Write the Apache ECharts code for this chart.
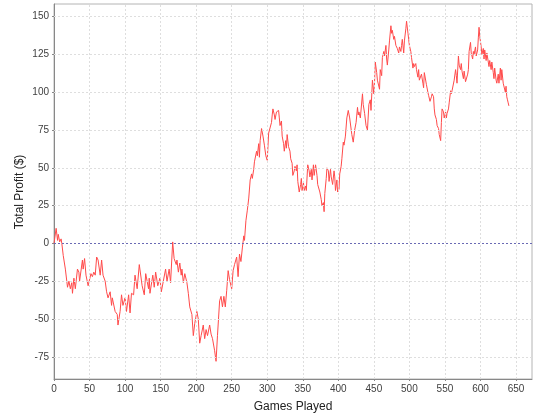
<!DOCTYPE html>
<html>
<head>
<meta charset="utf-8">
<script src="https://cdn.jsdelivr.net/npm/echarts@6/dist/echarts.min.js"></script>
<style>
html,body{margin:0;padding:0;background:#fff;}
#chart{width:540px;height:420px;}
</style>
</head>
<body>
<div id="chart"></div>
<script>
// Data
var games = [0,1,3,5,6,8,10,11,13,16,19,21,23,25,26,28,30,33,35,36,40,41,43,45,48,50,52,54,56,58,60,62,65,67,69,72,74,76,79,81,82,86,89,90,93,95,97,100,102,105,107,109,112,114,117,120,124,127,129,133,134,135,139,141,143,146,149,151,157,159,162,164,167,169,172,173,175,177,179,180,182,184,187,189,191,194,196,198,201,203,205,207,210,212,214,216,219,221,223,226,228,230,233,235,237,239,241,243,245,247,250,252,254,257,259,261,263,265,267,268,270,272,274,276,278,279,281,282,285,286,288,289,290,292,294,296,298,300,302,304,306,307,308,310,311,313,316,317,318,320,321,323,324,326,327,328,330,332,333,335,336,338,339,341,342,343,345,347,348,349,351,352,354,355,357,359,360,362,363,365,366,368,370,371,372,374,376,377,379,380,381,383,384,386,387,389,390,392,394,395,396,398,399,401,402,404,405,407,408,410,412,414,416,419,421,423,425,427,428,429,431,434,435,437,439,441,443,445,446,448,450,451,452,454,455,458,459,461,462,464,465,467,468,469,471,472,474,475,476,478,479,481,482,483,485,486,488,489,490,492,493,495,496,498,499,500,502,503,505,506,507,509,510,512,513,514,516,517,519,520,521,523,524,526,527,529,531,532,534,535,536,538,539,541,542,544,545,546,548,549,551,552,553,555,556,558,559,560,562,563,565,566,567,569,570,572,573,574,576,577,579,580,582,583,584,586,587,589,590,591,593,594,596,597,598,599,601,602,604,605,606,608,609,611,612,613,615,616,618,619,620,622,623,625,626,628,629,630,632,633,635,636,637,638,639,640];
var profit = [0,-1,10,2,6,1,3,0,-8,-17,-29,-25,-30,-26,-33,-23,-30,-17,-19,-25,-11,-17,-10,-21,-28,-29,-20,-22,-19,-21,-9,-11,-21,-11,-21,-25,-32,-36,-32,-41,-36,-45,-47,-54,-45,-34,-41,-36,-45,-34,-46,-33,-34,-21,-30,-14,-28,-34,-20,-30,-23,-33,-21,-29,-19,-28,-23,-32,-17,-25,-17,-26,1,-10,-14,-11,-19,-13,-21,-17,-26,-20,-26,-33,-42,-47,-61,-53,-45,-50,-66,-61,-54,-63,-57,-61,-54,-60,-63,-71,-78,-61,-38,-35,-42,-35,-42,-31,-18,-24,-30,-18,-14,-9,-22,-7,-12,-3,5,2,15,22,30,42,46,43,49,54,61,58,66,57,68,76,71,65,58,55,73,74,80,85,89,85,82,87,88,83,78,81,71,66,61,68,63,72,64,61,56,53,45,48,51,48,52,41,34,39,43,35,40,35,38,35,52,48,44,49,42,52,45,52,45,39,40,34,29,25,27,21,33,43,50,48,41,49,44,39,48,44,35,42,34,36,46,51,56,67,65,71,83,88,83,72,67,75,80,90,85,87,83,99,92,86,78,75,92,95,88,108,99,107,120,113,108,102,115,111,123,127,124,131,122,118,128,134,144,139,141,135,137,131,132,129,126,130,127,131,135,126,134,142,147,139,135,131,127,123,116,119,117,119,115,110,115,108,108,112,106,103,113,114,105,100,98,94,97,99,97,89,85,82,78,76,72,68,80,89,87,83,87,83,86,89,93,101,99,101,100,108,115,111,106,124,118,115,119,114,109,114,107,106,112,115,127,133,126,122,127,125,130,124,128,136,143,137,130,125,129,122,128,121,126,120,117,121,115,120,113,109,116,108,106,112,106,116,108,115,106,106,100,104,97,95,93,91];
var xTicks = [0,50,100,150,200,250,300,350,400,450,500,550,600,650];
var yTicks = [-75,-50,-25,0,25,50,75,100,125,150];
var xTitle = 'Games Played';
var yTitle = 'Total Profit ($)';

var chart = echarts.init(document.getElementById('chart'), null, {renderer:'canvas'});
var pts = games.map(function(g,i){return [g, profit[i]];});
var FONT = 'Liberation Sans';
var gridLines = xTicks.filter(function(v){return v!==0;}).map(function(v){return {xAxis:v};})
  .concat(yTicks.filter(function(v){return v!==0;}).map(function(v){return {yAxis:v};}));

chart.setOption({
  animation:false,
  backgroundColor:'#ffffff',
  grid:{left:54, right:8, top:4, bottom:41, show:true, borderColor:'#b4b4b4', borderWidth:1, backgroundColor:'#ffffff'},
  graphic:[{
    type:'text', x:20, y:192, rotation:Math.PI/2, silent:true,
    style:{text:yTitle, align:'center', verticalAlign:'middle', font:'12px "Liberation Sans"', fill:'#222'}
  }],
  xAxis:{
    type:'value', min:0, max:672.5,
    name:xTitle, nameLocation:'middle', nameGap:22,
    nameTextStyle:{fontFamily:FONT, fontSize:12, color:'#222'},
    axisLine:{show:true, onZero:false, lineStyle:{color:'#888'}},
    axisTick:{show:true, length:2, customValues:xTicks, lineStyle:{color:'#888'}},
    axisLabel:{customValues:xTicks, fontFamily:FONT, fontSize:10, color:'#404040', margin:5},
    splitLine:{show:false}
  },
  yAxis:{
    type:'value', min:-89.7, max:158.4,
    axisLine:{show:true, onZero:false, lineStyle:{color:'#888'}},
    axisTick:{show:true, length:2, customValues:yTicks, lineStyle:{color:'#888'}},
    axisLabel:{customValues:yTicks, fontFamily:FONT, fontSize:10, color:'#404040', margin:5},
    splitLine:{show:false}
  },
  series:[
    {
      type:'line', data:[[0,0]], symbol:'none', silent:true, z:1,
      lineStyle:{opacity:0},
      markLine:{silent:true, symbol:['none','none'], label:{show:false},
        lineStyle:{type:[2,2], color:'#dedede', width:1},
        data:gridLines}
    },
    {
      type:'line', data:[[0,0]], symbol:'none', silent:true, z:2,
      lineStyle:{opacity:0},
      markLine:{silent:true, symbol:['none','none'], label:{show:false},
        lineStyle:{type:[2,2], color:'#6a6ab4', width:1},
        data:[{yAxis:0}]}
    },
    {
      type:'line', data:pts, showSymbol:false, symbol:'none', z:3,
      sampling:null,
      lineStyle:{color:'#ff4a4a', width:1}
    }
  ]
});
</script>
</body>
</html>
